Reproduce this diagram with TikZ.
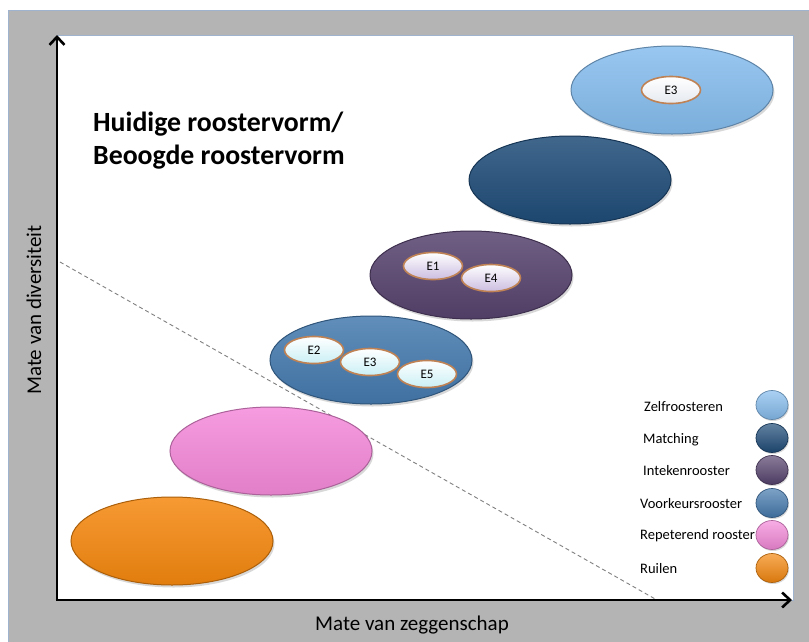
\documentclass[tikz,border=0pt]{standalone}
\usepackage{fontspec}
\setmainfont{Carlito}
\usetikzlibrary{shapes.geometric,arrows.meta,shadows}

\definecolor{panelgrey}{HTML}{B4B4B4}
\definecolor{panelline}{HTML}{9FB3CF}
\definecolor{czelf}{HTML}{86BDEE}
\definecolor{cmatch}{HTML}{1F4C78}
\definecolor{cintek}{HTML}{57436E}
\definecolor{cvoork}{HTML}{457AAE}
\definecolor{crepet}{HTML}{F58ADA}
\definecolor{cruil}{HTML}{F5880F}
\definecolor{eborder}{HTML}{BF8254}
\definecolor{ecyan}{HTML}{C9EFF5}
\definecolor{elav}{HTML}{CBBDE1}
\definecolor{ewhite}{HTML}{E4E9EF}

\begin{document}
\begin{tikzpicture}[x=1pt,y=-1pt,
  blob/.style={ellipse, minimum width=202pt, minimum height=88pt, inner sep=0pt,
    draw=#1!70!black, line width=1pt,
    top color=#1!85!white, middle color=#1, bottom color=#1!92!black,
    drop shadow={shadow xshift=1.5pt, shadow yshift=-2.5pt, opacity=0.3}},
  ebox/.style={ellipse, minimum width=59pt, minimum height=27pt, inner sep=0pt,
    draw=eborder, line width=1.6pt,
    top color=white, bottom color=#1, font=\fontsize{13}{13}\selectfont},
  dot/.style={ellipse, minimum width=32pt, minimum height=29pt, inner sep=0pt,
    draw=#1!70!black, line width=0.7pt,
    top color=#1!70!white, middle color=#1, bottom color=#1!88!black,
    drop shadow={shadow xshift=1pt, shadow yshift=-1.5pt, opacity=0.3}},
  legtext/.style={anchor=west, inner sep=0pt, font=\fontsize{14.5}{15}\selectfont},
  axis/.style={line width=2.8pt, -{Straight Barb[length=8pt,width=15pt,line width=2.6pt]}},
  axlabel/.style={font=\fontsize{21}{22}\selectfont, inner sep=0pt}
]
\useasboundingbox (0,0) rectangle (809,641);

% background panel and plotting area
\fill[white] (0,0) rectangle (809,641);
\filldraw[fill=panelgrey, draw=panelline, line width=0.8pt] (8,10) rectangle (812,645);
\filldraw[fill=white, draw=panelline, line width=0.8pt] (57,35) rectangle (793,600);

% threshold line
\coordinate (dstart) at (60,262);
\coordinate (dend) at (657,600);
\draw[gray, line width=0.9pt, dash pattern=on 4pt off 3pt] (dstart) -- (dend);

% axes
\coordinate (origin) at (57,600);
\coordinate (ytop) at (57,35);
\coordinate (xend) at (792,600);
\draw[axis] (origin) -- (ytop);
\draw[axis] ([xshift=-1.4pt]origin) -- (xend);

\node[axlabel] (xlab) at (412,625) {Mate van zeggenschap};
\node[axlabel, rotate=90] (ylab) at (34,310) {Mate van diversiteit};

% title
\node[anchor=base west, inner sep=0pt, font=\fontsize{27.8}{30}\bfseries\selectfont] (title1) at (93,131) {Huidige roostervorm/};
\node[anchor=base west, inner sep=0pt, font=\fontsize{27.8}{30}\bfseries\selectfont] (title2) at (93,164) {Beoogde roostervorm};

% schedule forms
\node[blob=cruil]  (ruil)  at (172,541) {};
\node[blob=crepet] (repet) at (271,451) {};
\node[blob=cvoork] (voork) at (371,360) {};
\node[blob=cintek] (intek) at (471,275) {};
\node[blob=cmatch] (match) at (570,180) {};
\node[blob=czelf]  (zelf)  at (672,90) {};

% experiments
\node[ebox=ewhite] (e3top) at (671,90) {E3};
\node[ebox=elav]   (e1)    at (433,266) {E1};
\node[ebox=elav]   (e4)    at (491,278) {E4};
\node[ebox=ecyan]  (e2)    at (314,350) {E2};
\node[ebox=ecyan]  (e3)    at (370,362) {E3};
\node[ebox=ecyan]  (e5)    at (427,374) {E5};

% legend
\node[dot=czelf]  (lzelf)  at (772,405) {};
\node[dot=cmatch] (lmatch) at (772,438) {};
\node[dot=cintek] (lintek) at (772,470) {};
\node[dot=cvoork] (lvoork) at (772,503) {};
\node[dot=crepet] (lrepet) at (772,535) {};
\node[dot=cruil]  (lruil)  at (772,568) {};

\node[legtext] (tzelf)  at (644,407) {Zelfroosteren};
\node[legtext] (tmatch) at (643,440) {Matching};
\node[legtext] (tintek) at (643,471) {Intekenrooster};
\node[legtext] (tvoork) at (640,504) {Voorkeursrooster};
\node[legtext] (trepet) at (640,536) {Repeterend rooster};
\node[legtext] (truil)  at (640,569) {Ruilen};
\end{tikzpicture}
\end{document}
